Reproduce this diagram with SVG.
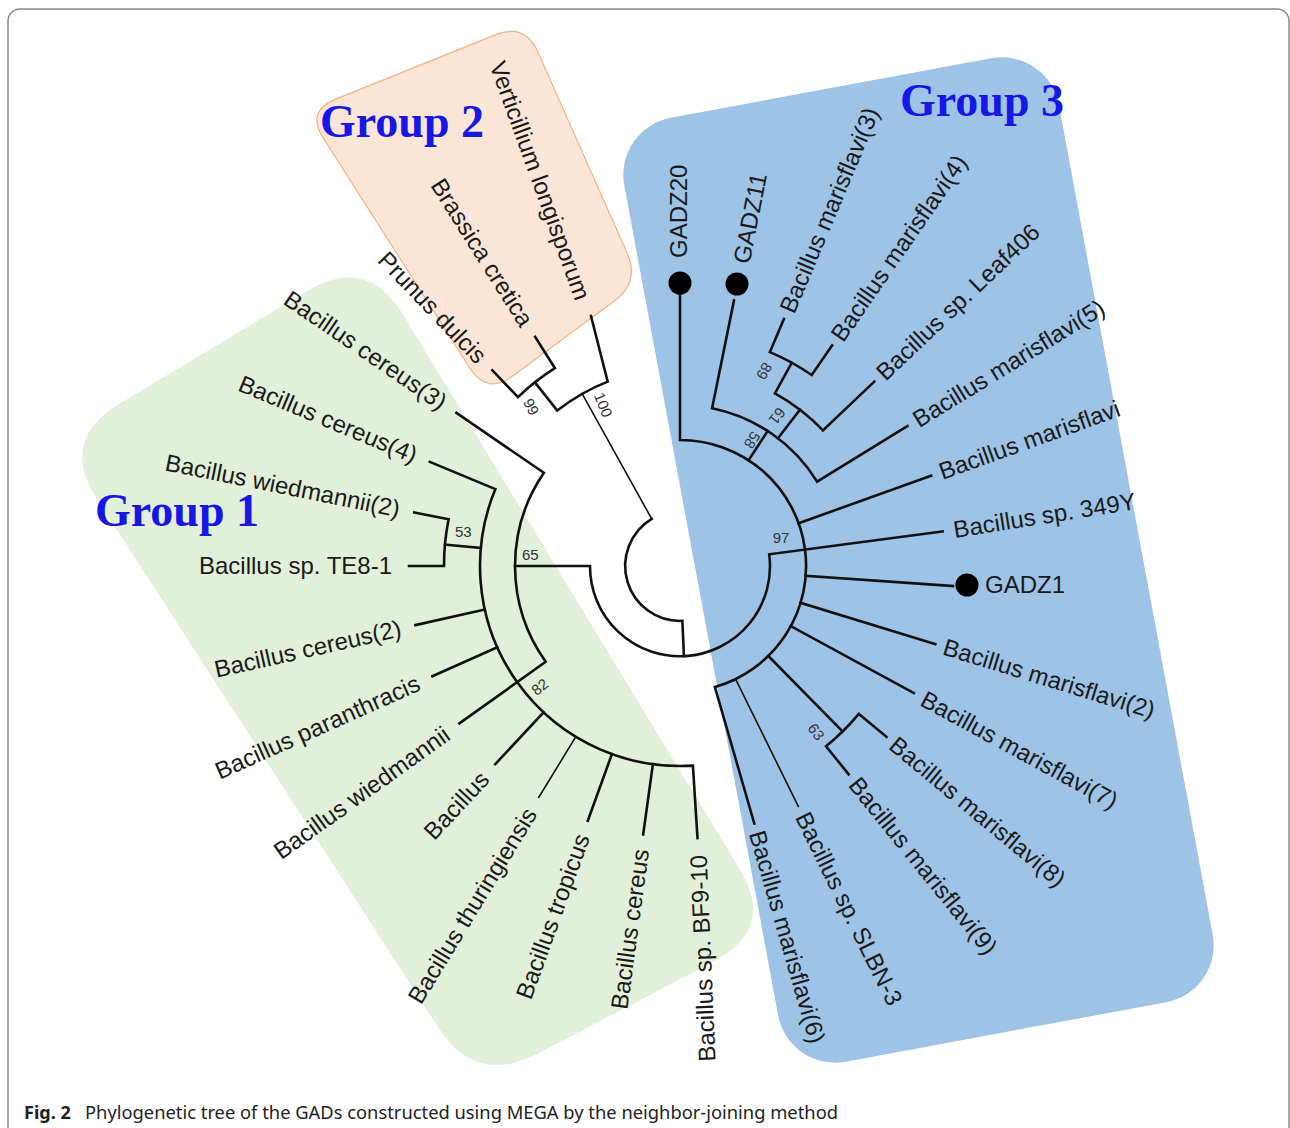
<svg xmlns="http://www.w3.org/2000/svg" width="1290" height="1128" viewBox="0 0 1290 1128">
<style>
.br{fill:none;stroke:#111;stroke-width:2.6;stroke-linecap:square;stroke-linejoin:miter}
.th{fill:none;stroke:#111;stroke-width:1.6;stroke-linecap:square}
.lb{font-family:"Liberation Sans",Arial,sans-serif;font-size:24px;fill:#1a1a1a}
.nl{font-family:"Liberation Sans",Arial,sans-serif;font-size:15px;fill:#333}
.gt{font-family:"Liberation Serif","Times New Roman",serif;font-weight:bold;font-size:46px;fill:#1616e6}
.dot{fill:#000}
</style>
<rect width="1290" height="1128" fill="#fff"/>
<rect id="frame" x="8" y="9" width="1281" height="1200" rx="12" fill="none" stroke="#8a8a8a" stroke-width="1.5"/>

<g id="group1-box">
<path d="M119 404 L307 291 Q367 255 403.3 314.9 L739.7 869.1 Q776 929 714 961.5 L538 1053.5 Q476 1086 438.1 1027.2 L96.9 498.8 Q59 440 119 404 Z" fill="#e2efd9"/>
<text class="gt" x="95" y="526">Group 1</text>
</g>
<g id="group2-box">
<path d="M335.7 99.1 L495.3 34.9 Q525 23 538 52.2 L627 252.8 Q640 282 614.3 301 L512.7 376 Q487 395 469.8 368 L323.2 138 Q306 111 335.7 99.1 Z" fill="#fbe5d6" stroke="#f4b183" stroke-width="1.2"/>
<text class="gt" x="320" y="137">Group 2</text>
</g>
<g id="group3-box">
<rect x="-221" y="-480" width="442" height="960" rx="58" fill="#9dc3e6" transform="translate(918.5 560) rotate(-10.5)"/>
<text class="gt" x="900" y="116">Group 3</text>
</g>

<g id="connectors">
<path class="br" d="M651.7 518.9 A55 55 0 0 0 682.4 620.9 L683.9 655.9"/>
<path class="br" d="M515 566 L590 566 A90 90 0 1 0 769.2 554.3 L942.7 531.4"/>
<path class="th" d="M651.7 518.9 L582.2 393.8"/>
<!-- group 1 -->
<path class="br" d="M456.4 412.9 L543.9 472.8 A165 165 0 0 0 545.7 661.8 L459.4 723.4"/>
<path class="br" d="M429.8 461.9 L495.4 489.1 A200 200 0 0 0 692.9 765.6 L697.5 838"/>
<path class="br" d="M480.8 547.9 L445 544.6"/>
<path class="br" d="M414.3 512.4 L448.6 519.3 A236 236 0 0 0 444 566 L409 566"/>
<path class="br" d="M484.8 609.6 L415.5 625.1"/>
<path class="br" d="M497.3 647.3 L432.4 676.2"/>
<path class="br" d="M543.6 712.3 L495.2 764.2"/>
<path class="th" d="M574.8 738.4 L538.8 797.3"/>
<path class="br" d="M611.9 754.1 L587.8 820.8"/>
<path class="br" d="M652.9 764.1 L643.2 834.5"/>
<!-- group 2 -->
<path class="br" d="M591 316 L607.7 381.6 A198 198 0 0 0 557.3 410.6 L535 382.4"/>
<path class="br" d="M535.2 336.9 L554.9 368.2 A234 234 0 0 0 518 397.1 L492.4 370.4"/>
<!-- group 3 -->
<path class="br" d="M680 295 L680 440 A126 126 0 0 1 714.9 687.1 L754.3 823.5"/>
<path class="br" d="M748.6 460.3 L767.7 431"/>
<path class="br" d="M734 300.4 L712.1 408.2 A161 161 0 0 1 817.1 481.6 L907.4 426.1"/>
<path class="br" d="M778 438.3 L799.9 409.7"/>
<path class="br" d="M791.8 362.7 L774.9 393.4 A197 197 0 0 1 822.9 430.4 L874.4 381.5"/>
<path class="br" d="M783.9 318.9 L769.9 352.1 A232 232 0 0 1 811.7 375 L832.2 345.4"/>
<path class="br" d="M798.6 523.3 L931.2 475.6"/>
<path class="br" d="M805.6 575.7 L953 586"/>
<path class="br" d="M800.5 602.8 L935.3 644.1"/>
<path class="br" d="M790.7 626.1 L913.8 692.9"/>
<path class="br" d="M768.3 655.9 L842.6 731.5"/>
<path class="br" d="M886.5 736.8 L858.8 713.9 A232 232 0 0 1 826 746.3 L848.7 774.3"/>
<path class="th" d="M736.1 680 L798.3 806.5"/>
</g>

<g id="node-labels">
<text class="nl" x="522" y="560">65</text>
<text class="nl" x="455" y="537">53</text>
<text class="nl" text-anchor="middle" transform="translate(543 691) rotate(-38)">82</text>
<text class="nl" text-anchor="middle" transform="translate(531 407) rotate(62)" y="5">99</text>
<text class="nl" text-anchor="middle" transform="translate(603 405) rotate(68)" y="5">100</text>
<text class="nl" text-anchor="middle" x="781" y="543">97</text>
<text class="nl" text-anchor="middle" transform="translate(752 440) rotate(123)" y="5">58</text>
<text class="nl" text-anchor="middle" transform="translate(777 416) rotate(128)" y="5">61</text>
<text class="nl" text-anchor="middle" transform="translate(764 371) rotate(120)" y="5">89</text>
<text class="nl" text-anchor="middle" transform="translate(816 732) rotate(55)" y="5">63</text>
</g>

<g id="leaf-b-cereus-3"><text class="lb" text-anchor="end" transform="translate(444 404.4) rotate(34.4)" y="8">Bacillus cereus(3)</text></g>
<g id="leaf-b-cereus-4"><text class="lb" text-anchor="end" transform="translate(416 456.1) rotate(22.6)" y="8">Bacillus cereus(4)</text></g>
<g id="leaf-b-wiedmannii-2"><text class="lb" text-anchor="end" transform="translate(399.6 509.5) rotate(11.4)" y="8">Bacillus wiedmannii(2)</text></g>
<g id="leaf-b-te8-1"><text class="lb" text-anchor="end" transform="translate(392 566)" y="8">Bacillus sp. TE8-1</text></g>
<g id="leaf-b-cereus-2"><text class="lb" text-anchor="end" transform="translate(400.9 628.4) rotate(-12.6)" y="8">Bacillus cereus(2)</text></g>
<g id="leaf-b-paranthracis"><text class="lb" text-anchor="end" transform="translate(418.7 682.3) rotate(-24)" y="8">Bacillus paranthracis</text></g>
<g id="leaf-b-wiedmannii"><text class="lb" text-anchor="end" transform="translate(447.2 732.1) rotate(-35.5)" y="8">Bacillus wiedmannii</text></g>
<g id="leaf-bacillus"><text class="lb" text-anchor="end" transform="translate(484.9 775.2) rotate(-47)" y="8">Bacillus</text></g>
<g id="leaf-b-thuringiensis"><text class="lb" text-anchor="end" transform="translate(531 810.1) rotate(-58.6)" y="8">Bacillus thuringiensis</text></g>
<g id="leaf-b-tropicus"><text class="lb" text-anchor="end" transform="translate(582.6 834.9) rotate(-70.1)" y="8">Bacillus tropicus</text></g>
<g id="leaf-b-cereus"><text class="lb" text-anchor="end" transform="translate(641.2 849.3) rotate(-82.2)" y="8">Bacillus cereus</text></g>
<g id="leaf-b-bf9-10"><text class="lb" text-anchor="end" transform="translate(698.6 855) rotate(-92.5)" y="8">Bacillus sp. BF9-10</text></g>

<g id="leaf-verticillium"><text class="lb" text-anchor="end" transform="translate(582.9 299.1) rotate(70)" y="8">Verticillium longisporum</text></g>
<g id="leaf-brassica"><text class="lb" text-anchor="end" transform="translate(527.2 324.2) rotate(57.7)" y="8">Brassica cretica</text></g>
<g id="leaf-prunus"><text class="lb" text-anchor="end" transform="translate(482.1 359.6) rotate(46.2)" y="8">Prunus dulcis</text></g>

<g id="leaf-gadz20"><circle class="dot" cx="680" cy="283" r="11.5"/><text class="lb" transform="translate(679 258) rotate(-90)" y="8">GADZ20</text></g>
<g id="leaf-gadz11"><circle class="dot" cx="737" cy="284" r="11.5"/><text class="lb" transform="translate(741.6 263.2) rotate(-79)" y="8">GADZ11</text></g>
<g id="leaf-bm-3"><text class="lb" transform="translate(787 311.6) rotate(-67.2)" y="8">Bacillus marisflavi(3)</text></g>
<g id="leaf-bm-4"><text class="lb" transform="translate(836.7 338.8) rotate(-55.4)" y="8">Bacillus marisflavi(4)</text></g>
<g id="leaf-leaf406"><text class="lb" transform="translate(880.2 376) rotate(-43.5)" y="8">Bacillus sp. Leaf406</text></g>
<g id="leaf-bm-5"><text class="lb" transform="translate(915.1 421.4) rotate(-31.6)" y="8">Bacillus marisflavi(5)</text></g>
<g id="leaf-bm"><text class="lb" transform="translate(939.7 472.5) rotate(-19.8)" y="8">Bacillus marisflavi</text></g>
<g id="leaf-349y"><text class="lb" transform="translate(953.6 530) rotate(-9)" y="8">Bacillus sp. 349Y</text></g>
<g id="leaf-gadz1"><circle class="dot" cx="967" cy="585" r="11.5"/><text class="lb" x="985" y="593">GADZ1</text></g>
<g id="leaf-bm-2"><text class="lb" transform="translate(943.9 646.7) rotate(17)" y="8">Bacillus marisflavi(2)</text></g>
<g id="leaf-bm-7"><text class="lb" transform="translate(922.5 697.7) rotate(28.5)" y="8">Bacillus marisflavi(7)</text></g>
<g id="leaf-bm-8"><text class="lb" transform="translate(892.7 741.9) rotate(39.6)" y="8">Bacillus marisflavi(8)</text></g>
<g id="leaf-bm-9"><text class="lb" transform="translate(853.7 780.5) rotate(51)" y="8">Bacillus marisflavi(9)</text></g>
<g id="leaf-slbn-3"><text class="lb" transform="translate(801.9 813.7) rotate(63.8)" y="8">Bacillus sp. SLBN-3</text></g>
<g id="leaf-bm-6"><text class="lb" transform="translate(756.5 831.2) rotate(73.9)" y="8">Bacillus marisflavi(6)</text></g>

<g id="caption">
<text x="24" y="1119" style="font-family:'Noto Sans','Open Sans',sans-serif;font-size:18px;font-weight:bold;fill:#222">Fig. 2</text>
<text x="85" y="1119" textLength="753" lengthAdjust="spacingAndGlyphs" style="font-family:'Noto Sans','Open Sans',sans-serif;font-size:18px;fill:#222">Phylogenetic tree of the GADs constructed using MEGA by the neighbor-joining method</text>
</g>
</svg>
